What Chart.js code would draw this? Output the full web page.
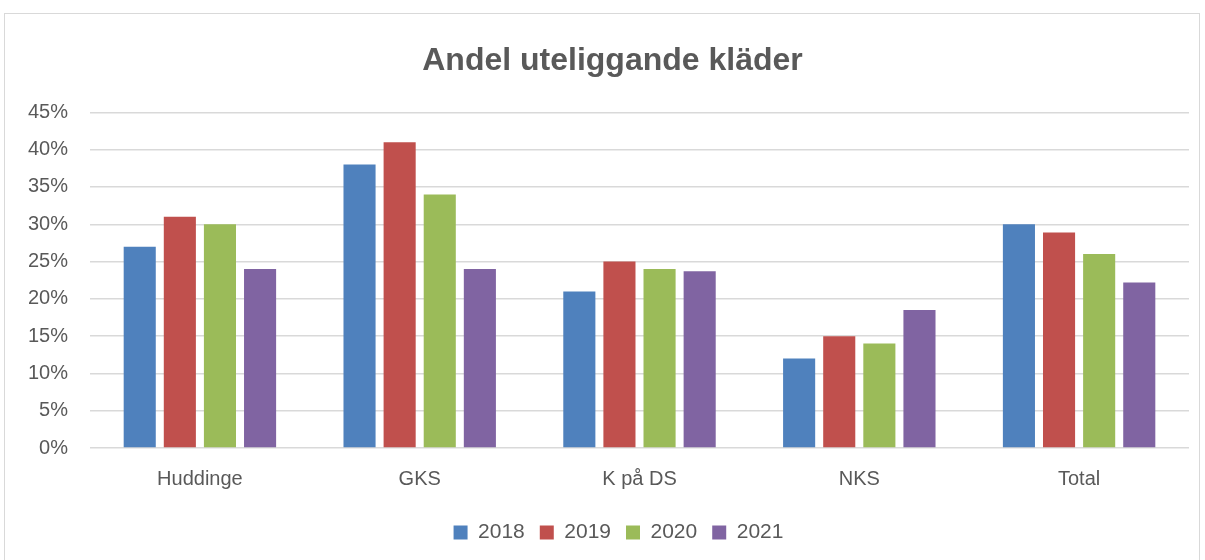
<!DOCTYPE html>
<html>
<head>
<meta charset="utf-8">
<script src="https://cdn.jsdelivr.net/npm/chart.js@4"></script>
<style>
  html, body { margin: 0; padding: 0; background: #fff; }
  #wrap { position: relative; width: 1205px; height: 560px; overflow: hidden; }
  #frame { position: absolute; left: 4px; top: 13px; width: 1196px; height: 560px; border: 1px solid #d9d9d9; box-sizing: border-box; }
  #chart { position: absolute; left: 0; top: 0; }
</style>
</head>
<body>
<div id="wrap">
  <div id="frame"></div>
  <canvas id="chart" width="1205" height="560"></canvas>
</div>
<script>
const categories = ['Huddinge', 'GKS', 'K på DS', 'NKS', 'Total'];
const years = ['2018', '2019', '2020', '2021'];
const values2018 = [27, 38, 21, 12, 30];
const values2019 = [31, 41, 25, 15, 28.9];
const values2020 = [30, 34, 24, 14, 26];
const values2021 = [24, 24, 23.7, 18.5, 22.2];
const yTicks = [0, 5, 10, 15, 20, 25, 30, 35, 40, 45];

const colors = ['#4f81bd', '#c0504d', '#9bbb59', '#8064a2'];
const series = [values2018, values2019, values2020, values2021];

const textColor = '#595959';
const font = 'Liberation Sans, Arial, sans-serif';

// Excel centres title and legend a bit to the right of the plot
const nudgeBoxes = {
    id: 'nudgeBoxes',
    afterLayout(chart) {
        if (chart.titleBlock) { chart.titleBlock.left += 18; chart.titleBlock.right += 18; }
        if (chart.legend) { chart.legend.left += 24; chart.legend.right += 24; }
    }
};

const ctx = document.getElementById('chart').getContext('2d');
const chart = new Chart(ctx, {
    type: 'bar',
    data: {
        labels: categories,
        datasets: series.map((data, i) => ({
            label: years[i],
            data: data,
            backgroundColor: colors[i],
            borderWidth: 0,
            barPercentage: 0.8,
            categoryPercentage: 0.73
        }))
    },
    options: {
        responsive: false,
        animation: false,
        layout: { padding: { left: 0, right: 16, top: 34, bottom: 7 } },
        plugins: {
            title: {
                display: true,
                text: 'Andel uteliggande kläder',
                color: textColor,
                font: { family: font, size: 32, weight: 'bold' },
                padding: { top: 8, bottom: 32 }
            },
            legend: {
                position: 'bottom',
                labels: {
                    color: textColor,
                    font: { family: font, size: 21 },
                    boxWidth: 14,
                    boxHeight: 14,
                    padding: 15
                }
            },
            tooltip: { enabled: false }
        },
        scales: {
            x: {
                grid: { display: false },
                border: { display: false },
                ticks: { color: textColor, font: { family: font, size: 20 }, padding: 11 },
                afterFit: (scale) => { scale.height = 59; }
            },
            y: {
                min: 0,
                max: 45,
                afterBuildTicks: (scale) => { scale.ticks = yTicks.map(v => ({ value: v })); },
                grid: { color: '#d9d9d9', lineWidth: 1.5, drawTicks: false },
                border: { display: false },
                ticks: {
                    color: textColor,
                    font: { family: font, size: 20 },
                    padding: 22,
                    callback: (v) => v + '%'
                },
                afterFit: (scale) => { scale.width = 90; }
            }
        }
    },
    plugins: [nudgeBoxes]
});
</script>
</body>
</html>
